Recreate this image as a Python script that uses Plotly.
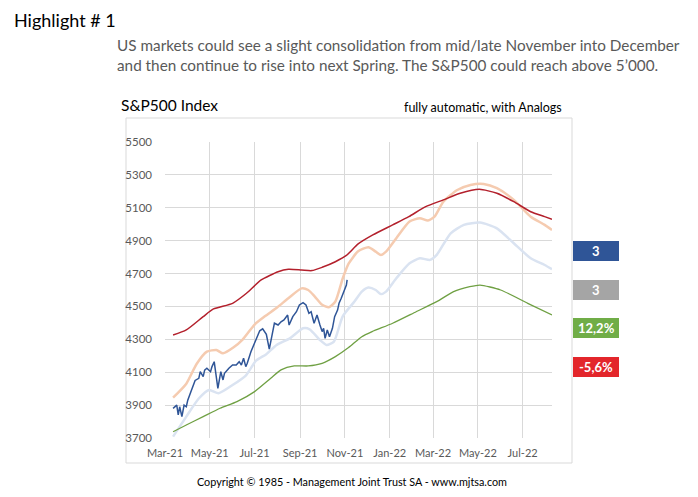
import plotly.graph_objects as go

# ---------------- data ----------------
actual_dates = ["2021-03-12","2021-03-17","2021-03-19","2021-03-21","2021-03-24","2021-03-27","2021-03-30",
    "2021-04-01","2021-04-06","2021-04-11","2021-04-16","2021-04-18","2021-04-22","2021-04-24","2021-04-27",
    "2021-05-02","2021-05-04","2021-05-07","2021-05-12","2021-05-16","2021-05-19","2021-05-21","2021-05-27",
    "2021-06-01","2021-06-06","2021-06-10","2021-06-13","2021-06-16","2021-06-19","2021-06-21","2021-06-26",
    "2021-06-29","2021-07-03","2021-07-08","2021-07-12","2021-07-17","2021-07-21","2021-07-25","2021-07-28",
    "2021-08-02","2021-08-06","2021-08-10","2021-08-15","2021-08-17","2021-08-22","2021-08-27","2021-08-31",
    "2021-09-05","2021-09-09","2021-09-13","2021-09-16","2021-09-20","2021-09-24","2021-09-28","2021-10-01",
    "2021-10-03","2021-10-05","2021-10-08","2021-10-11","2021-10-15","2021-10-18","2021-10-22","2021-10-24",
    "2021-10-27","2021-10-29","2021-10-31","2021-11-03","2021-11-04"]
actual_values = [3880,3900,3840,3890,3830,3900,3890,
    3930,3990,4050,4063,4103,4073,4113,4124,
    4103,4134,4164,4002,4103,4053,4093,4124,
    4144,4144,4164,4144,4185,4134,4154,4225,
    4255,4300,4352,4364,4330,4240,4337,4398,
    4387,4407,4418,4448,4387,4438,4468,4509,
    4523,4509,4458,4468,4398,4448,4387,4347,
    4367,4306,4357,4316,4367,4438,4478,4519,
    4550,4570,4590,4630,4661]

upper_dates = ["2021-03-12","2021-03-30","2021-04-22","2021-05-06","2021-06-01","2021-06-20","2021-07-10",
    "2021-08-02","2021-08-16","2021-09-03","2021-09-17","2021-10-01","2021-10-19","2021-11-03","2021-11-19",
    "2021-12-09","2022-01-05","2022-01-27","2022-02-19","2022-03-15","2022-04-07","2022-05-03","2022-05-27",
    "2022-06-19","2022-07-12","2022-07-31","2022-08-10"]
upper_values = [4326,4357,4438,4485,4519,4580,4661,
    4711,4726,4722,4718,4738,4772,4810,4880,
    4935,4996,5046,5107,5148,5188,5212,5188,
    5137,5076,5046,5030]

analog1_dates = ["2021-03-12","2021-03-30","2021-04-13","2021-04-27","2021-05-10","2021-05-19","2021-06-02",
    "2021-06-15","2021-07-01","2021-07-15","2021-08-01","2021-08-16","2021-09-03","2021-09-12","2021-09-21",
    "2021-10-01","2021-10-10","2021-10-19","2021-10-29","2021-11-06","2021-11-19","2021-12-03","2021-12-13",
    "2021-12-20","2021-12-27","2022-01-10","2022-01-28","2022-02-11","2022-02-22","2022-03-03","2022-03-15",
    "2022-04-03","2022-04-21","2022-05-09","2022-05-27","2022-06-19","2022-07-12","2022-07-31","2022-08-10"]
analog1_values = [3945,4030,4150,4225,4235,4215,4250,
    4300,4390,4440,4495,4550,4610,4600,4560,
    4510,4495,4530,4670,4760,4835,4860,4833,
    4813,4833,4915,5016,5037,5022,5046,5137,
    5208,5239,5245,5219,5148,5046,4996,4965]

analog2_dates = ["2021-03-12","2021-03-30","2021-04-16","2021-04-30","2021-05-13","2021-06-01","2021-06-19",
    "2021-07-03","2021-07-17","2021-07-31","2021-08-18","2021-09-05","2021-09-14","2021-09-28","2021-10-07",
    "2021-10-17","2021-10-29","2021-11-14","2021-11-24","2021-12-03","2021-12-13","2021-12-20","2021-12-27",
    "2022-01-10","2022-01-28","2022-02-11","2022-02-25","2022-03-06","2022-03-25","2022-04-12","2022-05-04",
    "2022-05-27","2022-06-19","2022-07-12","2022-07-31","2022-08-10"]
analog2_values = [3708,3830,3940,3992,3972,4022,4080,
    4170,4210,4266,4306,4367,4361,4296,4266,
    4286,4440,4530,4590,4615,4600,4575,4590,
    4671,4762,4793,4783,4813,4945,4996,5010,
    4975,4884,4793,4752,4726]

lower_dates = ["2021-03-12","2021-03-30","2021-04-22","2021-05-15","2021-06-07","2021-07-01","2021-07-23",
    "2021-08-06","2021-08-24","2021-09-12","2021-10-01","2021-10-19","2021-11-06","2021-11-24","2021-12-08",
    "2022-01-05","2022-02-06","2022-03-06","2022-03-29","2022-04-20","2022-05-04","2022-06-01","2022-07-08",
    "2022-08-10"]
lower_values = [3738,3779,3830,3881,3921,3982,4063,
    4114,4138,4138,4154,4195,4250,4316,4347,
    4398,4468,4529,4590,4620,4630,4600,4519,
    4448]

y_ticks = [3700, 3900, 4100, 4300, 4500, 4700, 4900, 5100, 5300, 5500]
box_labels = ["3", "3", "12,2%", "-5,6%"]
box_colors = ["#2F5597", "#A5A5A5", "#70AD47", "#E3262B"]

# ---------------- layout geometry ----------------
W, H = 698, 497
L, R, T, B = 165, 552, 142, 438


def px(x):
    return (x - L) / (R - L)


def py(y):
    return (B - y) / (B - T)


fig = go.Figure()
fig.add_trace(go.Scatter(x=analog1_dates, y=analog1_values, mode="lines",
                         line=dict(color="#F5CBB0", width=2.5, shape="spline", smoothing=0.6), hoverinfo="skip"))
fig.add_trace(go.Scatter(x=analog2_dates, y=analog2_values, mode="lines",
                         line=dict(color="#DAE3F1", width=2.5, shape="spline", smoothing=0.6), hoverinfo="skip"))
fig.add_trace(go.Scatter(x=lower_dates, y=lower_values, mode="lines",
                         line=dict(color="#6FA043", width=1.3, shape="spline", smoothing=0.6)))
fig.add_trace(go.Scatter(x=upper_dates, y=upper_values, mode="lines",
                         line=dict(color="#B3202C", width=1.5, shape="spline", smoothing=0.6)))
fig.add_trace(go.Scatter(x=actual_dates, y=actual_values, mode="lines",
                         line=dict(color="#2F5597", width=1.5)))

font_main = "Lato, 'Open Sans', sans-serif"

fig.update_layout(
    width=W, height=H,
    margin=dict(l=L, r=W - R, t=T, b=H - B, pad=0),
    paper_bgcolor="white", plot_bgcolor="white",
    showlegend=False,
    font=dict(family=font_main, color="#595959", size=11),
    xaxis=dict(range=["2021-03-01", "2022-08-10"], tick0="2021-03-01", dtick="M2",
               tickformat="%b-%y", showgrid=True, gridcolor="#D9D9D9", gridwidth=1,
               zeroline=False, showline=False, ticks="", ticklabelstandoff=7,
               tickfont=dict(size=11, color="#595959")),
    yaxis=dict(range=[3700, 5500], tickvals=y_ticks, ticktext=[str(v) for v in y_ticks],
               showgrid=True, gridcolor="#D9D9D9", gridwidth=1, zeroline=False,
               showline=False, ticks="", ticklabelstandoff=12,
               tickfont=dict(size=11.5, color="#595959")),
)

# chart frame
fig.add_shape(type="rect", xref="paper", yref="paper",
              x0=px(126), x1=px(572), y0=py(463), y1=py(118),
              line=dict(color="#D9D9D9", width=1), fillcolor="rgba(0,0,0,0)", layer="below")

# side boxes
box_tops = [241, 280, 318, 357]
for lab, col, top in zip(box_labels, box_colors, box_tops):
    fig.add_shape(type="rect", xref="paper", yref="paper",
                  x0=px(573), x1=px(619), y0=py(top + 20), y1=py(top),
                  line=dict(width=0), fillcolor=col)
    fig.add_annotation(xref="paper", yref="paper", x=px(596), y=py(top + 10), text=f"<b>{lab}</b>",
                       showarrow=False, xanchor="center", yanchor="middle",
                       font=dict(family=font_main, size=13, color="white"))

# texts
def text(x, y, s, size, color, anchor="left", family=font_main):
    fig.add_annotation(xref="paper", yref="paper", x=px(x), y=py(y), text=s, showarrow=False,
                       xanchor=anchor, yanchor="middle", font=dict(family=family, size=size, color=color))

text(12, 20, "Highlight # 1", 18, "#000000")
text(115, 45, "US markets could see a slight consolidation from mid/late November into December", 15.3, "#595959")
text(115, 65, "and then continue to rise into next Spring. The S&amp;P500 could reach above 5’000.", 15.3, "#595959")
text(119, 105, "S&amp;P500 Index", 15.5, "#000000")
text(564, 107, "fully automatic, with Analogs", 12.5, "#000000", anchor="right")
text(352, 481, "Copyright © 1985 - Management Joint Trust SA - www.mjtsa.com", 10.8, "#000000", anchor="center")

fig.write_html("out.html", config={"displayModeBar": False},
               post_script="document.body.style.margin='0';")
